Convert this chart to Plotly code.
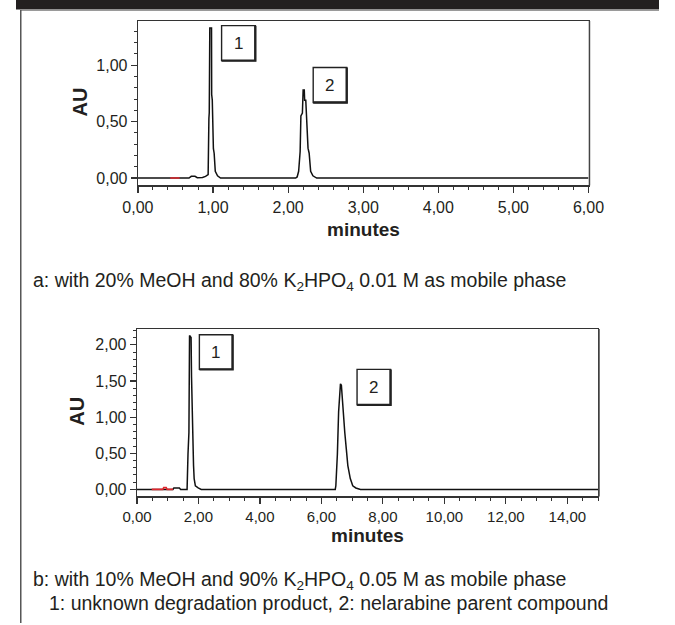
import plotly.graph_objects as go

W, H = 675, 625

# ---------------- data ----------------
# Chromatogram a (20% MeOH / 80% K2HPO4 0.01 M)
a_time = [0, 0.68, 0.71, 0.76, 0.79, 0.86, 0.90, 0.935, 0.945, 0.95, 0.957, 0.98, 0.982, 0.99,
          1.005, 1.015, 1.03, 1.06, 1.10, 2.10, 2.12, 2.14, 2.16, 2.17, 2.19, 2.20, 2.215, 2.22,
          2.235, 2.245, 2.255, 2.265, 2.28, 2.30, 2.33, 2.38, 6.0]
a_au = [0, 0, 0.015, 0.015, 0.003, 0.005, 0.015, 0.03, 0.53, 0.58, 1.33, 1.33, 0.74, 0.69,
        0.26, 0.22, 0.06, 0.02, 0, 0, 0.01, 0.06, 0.235, 0.55, 0.575, 0.78, 0.78, 0.69,
        0.69, 0.487, 0.46, 0.265, 0.22, 0.06, 0.02, 0, 0]
a_red_time = [0.43, 0.555]
a_red_au = [0, 0]

# Chromatogram b (10% MeOH / 90% K2HPO4 0.05 M)
b_time = [0, 1.17, 1.20, 1.38, 1.42, 1.63, 1.66, 1.69, 1.71, 1.76, 1.775, 1.79, 1.82, 1.84,
          1.86, 1.90, 1.99, 2.09, 6.45, 6.47, 6.52, 6.56, 6.59, 6.62, 6.65, 6.67, 6.69, 6.72,
          6.76, 6.81, 6.86, 6.94, 7.02, 7.12, 7.27, 15.0]
b_au = [0, 0, 0.02, 0.02, 0, 0, 0.49, 0.79, 2.13, 2.10, 1.55, 0.98, 0.70, 0.33,
        0.15, 0.05, 0.02, 0, 0, 0.05, 0.49, 1.07, 1.30, 1.46, 1.44, 1.30, 1.11, 0.95,
        0.79, 0.56, 0.33, 0.15, 0.05, 0.02, 0, 0]
b_red_time = [0.48, 0.84, 0.87, 0.95, 0.98, 1.17]
b_red_au = [0, 0, 0.025, 0.025, 0, 0]

# tick labels
a_xticks = [0, 1, 2, 3, 4, 5, 6]
a_xlabels = ["0,00", "1,00", "2,00", "3,00", "4,00", "5,00", "6,00"]
a_yticks = [0, 0.5, 1.0]
a_ylabels = ["0,00", "0,50", "1,00"]
b_xticks = [0, 2, 4, 6, 8, 10, 12, 14]
b_xlabels = ["0,00", "2,00", "4,00", "6,00", "8,00", "10,00", "12,00", "14,00"]
b_yticks = [0, 0.5, 1.0, 1.5, 2.0]
b_ylabels = ["0,00", "0,50", "1,00", "1,50", "2,00"]

# peak label boxes: (x0, x1, y0, y1, label)
a_boxes = [(1.114, 1.563, 1.04, 1.35, "1"), (2.334, 2.78, 0.669, 0.979, "2")]
b_boxes = [(2.03, 3.11, 1.66, 2.14, "1"), (7.16, 8.25, 1.17, 1.66, "2")]

caption_a = "a: with 20% MeOH and 80% K<sub>2</sub>HPO<sub>4</sub> 0.01 M as mobile phase"
caption_b = "b: with 10% MeOH and 90% K<sub>2</sub>HPO<sub>4</sub> 0.05 M as mobile phase"
caption_c = "1: unknown degradation product, 2: nelarabine parent compound"

# ---------------- layout geometry (pixels) ----------------
FONT = "Liberation Sans, Arial, sans-serif"
INK = "#231f20"
P1 = dict(l=128, r=601, t=21, b=186)
P2 = dict(l=127, r=611, t=330, b=498)

def px(x):
    return x / W

def py(y):
    return 1 - y / H

fig = go.Figure()

fig.add_trace(go.Scatter(x=a_time, y=a_au, mode="lines", line=dict(color="#111", width=1.5),
                         xaxis="x", yaxis="y", showlegend=False, hoverinfo="skip"))
fig.add_trace(go.Scatter(x=a_red_time, y=a_red_au, mode="lines", line=dict(color="#e0282e", width=1.6),
                         xaxis="x", yaxis="y", showlegend=False, hoverinfo="skip"))
fig.add_trace(go.Scatter(x=b_time, y=b_au, mode="lines", line=dict(color="#111", width=1.5),
                         xaxis="x2", yaxis="y2", showlegend=False, hoverinfo="skip"))
fig.add_trace(go.Scatter(x=b_red_time, y=b_red_au, mode="lines", line=dict(color="#e0282e", width=1.6),
                         xaxis="x2", yaxis="y2", showlegend=False, hoverinfo="skip"))

axis_common = dict(showgrid=False, zeroline=False, showline=True, linecolor="#333", linewidth=1.3,
                   ticks="outside", ticklen=6, tickwidth=1.2, tickcolor="#333",
                   tickfont=dict(family=FONT, size=16, color=INK), mirror=True)

fig.update_layout(
    width=W, height=H, margin=dict(l=0, r=0, t=0, b=0),
    paper_bgcolor="white", plot_bgcolor="white", showlegend=False,
    xaxis=dict(axis_common, domain=[px(P1["l"]), px(P1["r"])], range=[0, 6],
               tickvals=a_xticks, ticktext=a_xlabels, anchor="y", ticklabelstandoff=1,
               minor=dict(ticks="outside", dtick=0.2, ticklen=3, tickcolor="#333", tickwidth=1)),
    yaxis=dict(axis_common, domain=[py(P1["b"]), py(P1["t"])], range=[-0.065, 1.392],
               tickvals=a_yticks, ticktext=a_ylabels, anchor="x", ticklabelstandoff=0,
               minor=dict(ticks="outside", dtick=0.1, tick0=0, ticklen=3, tickcolor="#333", tickwidth=1)),
    xaxis2=dict(axis_common, domain=[px(P2["l"]), px(P2["r"])], range=[0, 15],
                tickvals=b_xticks, ticktext=b_xlabels, anchor="y2", ticklabelstandoff=0,
                tickfont=dict(family=FONT, size=15, color=INK),
                minor=dict(ticks="outside", dtick=0.5, ticklen=3, tickcolor="#333", tickwidth=1)),
    yaxis2=dict(axis_common, domain=[py(P2["b"]), py(P2["t"])], range=[-0.097, 2.22],
                tickvals=b_yticks, ticktext=b_ylabels, anchor="x2", ticklabelstandoff=0,
                minor=dict(ticks="outside", dtick=0.1, tick0=0, ticklen=3, tickcolor="#333", tickwidth=1)),
)

shapes = []
annotations = []

# top dark band and panel border
shapes.append(dict(type="rect", xref="paper", yref="paper", x0=0, x1=1, y0=py(9.5), y1=1,
                   fillcolor=INK, line=dict(width=0), layer="above"))
shapes.append(dict(type="line", xref="paper", yref="paper", x0=px(5), x1=1, y0=py(10.5), y1=py(10.5),
                   line=dict(color="#9a9a9a", width=1.2)))
shapes.append(dict(type="line", xref="paper", yref="paper", x0=px(5), x1=px(5), y0=0, y1=py(10),
                   line=dict(color="#555", width=1.5)))

# thicker right edges of plot frames
for P in (P1, P2):
    shapes.append(dict(type="line", xref="paper", yref="paper", x0=px(P["r"] + 1), x1=px(P["r"] + 1),
                       y0=py(P["b"]), y1=py(P["t"]), line=dict(color="#444", width=1.5)))

# peak label boxes (heavier right/bottom edge like a drop shadow)
for boxes, xr, yr in ((a_boxes, "x", "y"), (b_boxes, "x2", "y2")):
    for x0, x1, y0, y1, lab in boxes:
        shapes.append(dict(type="rect", xref=xr, yref=yr, x0=x0, x1=x1, y0=y0, y1=y1,
                           line=dict(color="#222", width=1.4), fillcolor="white"))
        shapes.append(dict(type="path", xref=xr, yref=yr,
                           path=f"M {x1},{y1} L {x1},{y0} L {x0},{y0}",
                           line=dict(color="#222", width=2.4)))
        annotations.append(dict(x=(x0 + x1) / 2, y=(y0 + y1) / 2, xref=xr, yref=yr, text=lab,
                                showarrow=False, font=dict(family=FONT, size=17, color=INK)))

fig.update_layout(shapes=shapes)

def ann(x, y, text, size, bold=False, xanchor="center", angle=0):
    t = f"<b>{text}</b>" if bold else text
    annotations.append(dict(x=px(x), y=py(y), xref="paper", yref="paper", text=t, showarrow=False,
                            xanchor=xanchor, yanchor="middle", textangle=angle,
                            font=dict(family=FONT, size=size, color=INK)))

# axis titles
ann((P1["l"] + P1["r"]) / 2, 230, "minutes", 19, bold=True)
ann(67, 102, "AU", 20, bold=True, angle=-90)
ann((P2["l"] + P2["r"]) / 2, 537, "minutes", 19, bold=True)
ann(64, 412, "AU", 20, bold=True, angle=-90)

# captions
ann(16, 282, caption_a, 19.5, xanchor="left")
ann(16, 582, caption_b, 19.5, xanchor="left")
ann(33, 605, caption_c, 19.5, xanchor="left")

fig.update_layout(annotations=annotations)

fig.write_html("out.html", config={"displayModeBar": False, "staticPlot": True},
               post_script="document.body.style.margin='0';document.body.style.overflow='hidden';")
